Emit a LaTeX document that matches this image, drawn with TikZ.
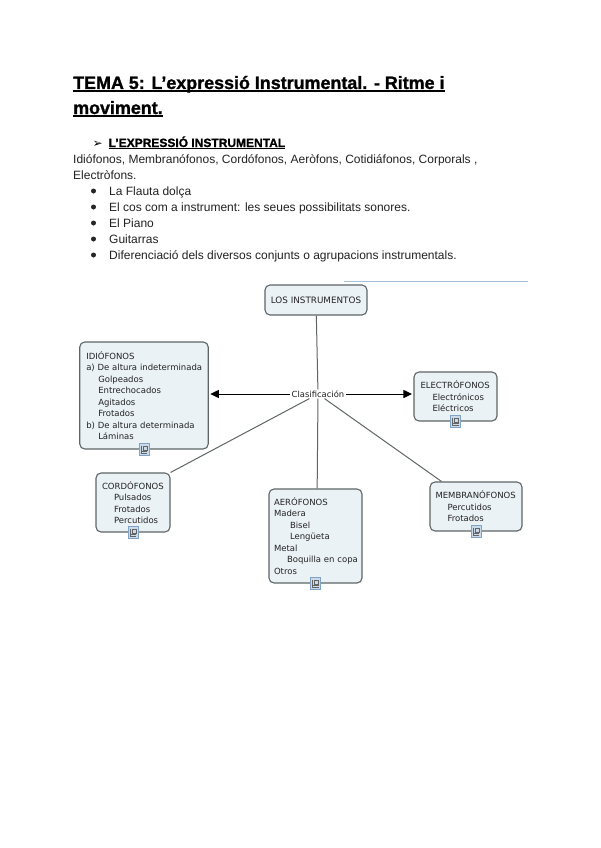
\documentclass[tikz,border=0pt]{standalone}
\usepackage{fontspec}
\setmainfont{Liberation Sans}[BoldFeatures={FakeBold=1.2}]
\newfontfamily\symfont{DejaVu Sans}
\newfontfamily\mapfont{DejaVu Sans}
\usetikzlibrary{arrows.meta}
\definecolor{boxfill}{HTML}{EBF2F6}
\definecolor{boxline}{HTML}{5F6566}
\definecolor{inktext}{HTML}{222222}
\definecolor{iconblue}{HTML}{7FA3C7}
\newcommand\ulin[2]{\setbox0\hbox{#2}\rlap{\rule[-#1]{\wd0}{1.1pt}}\box0 }
\tikzset{
  titletext/.style={anchor=base west,inner sep=0pt,font=\bfseries\fontsize{17.9}{22}\selectfont,text=black},
  bodytext/.style={anchor=base west,inner sep=0pt,font=\fontsize{12}{16}\selectfont,text=inktext},
  headtext/.style={anchor=base west,inner sep=0pt,font=\bfseries\fontsize{12}{16}\selectfont,text=black},
  dotmark/.style={circle,fill=black!85,inner sep=0pt,minimum size=5pt},
  mapbox/.style={draw=boxline,fill=boxfill,line width=1.1pt,rounded corners=5pt,inner xsep=0pt,inner ysep=0pt,align=left,
     font=\mapfont\fontsize{8.5}{11.5}\selectfont,text=inktext},
  linklabel/.style={fill=white,inner xsep=2pt,inner ysep=1pt,font=\mapfont\fontsize{8.4}{10}\selectfont,text=inktext},
  plainlink/.style={draw=boxline,line width=1pt},
  arrowlink/.style={draw=black,line width=1pt,shorten >=1.5pt,-{Triangle[length=8.5pt,width=8pt]}},
  docicon/.pic={
    \draw[iconblue,fill=boxfill!70!iconblue,line width=1pt] (-5,-6) rectangle (5,6);
    \draw[inktext!70!white,line width=0.6pt] (-3,-4) -- (-3,4) -- (3,4) (-1,-3.5) -- (3,-3.5) -- (3,1) -- (-1,1) -- cycle (-3,2.2) -- (3,2.2);
  }
}
\begin{document}
\begin{tikzpicture}[x=1pt,y=-1pt]
\useasboundingbox[fill=white] (0,0) rectangle (600,848);
% heading text
\node[titletext] (t1) at (73,89) {\ulin{2.6pt}{TEMA 5: L’expressió Instrumental. - Ritme i}};
\node[titletext] (t2) at (73,114) {\ulin{2.6pt}{moviment.}};
\node[anchor=base west,inner sep=0pt,font=\symfont\fontsize{12}{14}\selectfont] (arw) at (92.5,147.5) {➢};
\node[headtext] (h1) at (108.5,147) {\ulin{2pt}{L'EXPRESSIÓ INSTRUMENTAL}};
\node[bodytext] (b1) at (73,163) {Idiófonos, Membranófonos, Cordófonos, Aeròfons, Cotidiáfonos, Corporals ,};
\node[bodytext] (b2) at (73,179) {Electròfons.};
\foreach \nm/\yy/\tx in {l1/195/La Flauta dolça,l2/211/El cos com a instrument: les seues possibilitats sonores.,l3/227/El Piano,l4/243/Guitarras,l5/259/Diferenciació dels diversos conjunts o agrupacions instrumentals.}{
  \node[dotmark] (d\nm) at (93.5,\yy-4) {};
  \node[bodytext] (\nm) at (109,\yy) {\tx};
}
% rule above the map
\draw[color=iconblue!70!white,line width=0.7pt] (344,281.5) -- (528,281.5);
% boxes
\node[mapbox,minimum width=102pt,minimum height=30pt,align=center,font=\mapfont\fontsize{8.8}{11.5}\selectfont] (los) at (316,300) {LOS INSTRUMENTOS};
\node[mapbox,minimum width=128.5pt,minimum height=107pt,text width=115.5pt] (idio) at (144,395.5) {IDIÓFONOS\\\mbox{a) De altura indeterminada}\\\hspace*{12pt}Golpeados\\\hspace*{12pt}Entrechocados\\\hspace*{12pt}Agitados\\\hspace*{12pt}Frotados\\\mbox{b) De altura determinada}\\\hspace*{12pt}Láminas};
\node[mapbox,minimum width=83pt,minimum height=49pt,text width=70pt] (elec) at (455.5,396.5) {ELECTRÓFONOS\\\hspace*{12pt}Electrónicos\\\hspace*{12pt}Eléctricos};
\node[mapbox,minimum width=74pt,minimum height=59pt,text width=62pt] (cord) at (133,502.5) {CORDÓFONOS\\\hspace*{12pt}Pulsados\\\hspace*{12pt}Frotados\\\hspace*{12pt}Percutidos};
\node[mapbox,minimum width=93pt,minimum height=94pt,text width=83pt] (aero) at (315.5,536) {AERÓFONOS\\Madera\\\hspace*{16pt}Bisel\\\hspace*{16pt}Lengüeta\\Metal\\\hspace*{13pt}\mbox{Boquilla en copa}\\Otros};
\node[mapbox,minimum width=92pt,minimum height=49pt,text width=81pt] (memb) at (476,506.5) {MEMBRANÓFONOS\\\hspace*{12pt}Percutidos\\\hspace*{12pt}Frotados};
\node[linklabel] (clas) at (318,394) {Clasificación};
% connectors
\draw[plainlink] (los) -- (clas);
\draw[plainlink] (clas) -- (aero.88);
\draw[plainlink] (clas) -- (cord.north east);
\draw[plainlink] (clas) -- (memb.144);
\draw[arrowlink] (clas.west) -- (clas.west -| idio.east);
\draw[arrowlink] (clas.east) -- (clas.east -| elec.west);
% note icons
\pic at (idio.south) {docicon};
\pic at (elec.south) {docicon};
\pic at (cord.south) {docicon};
\pic at (aero.south) {docicon};
\pic at (memb.south) {docicon};
\end{tikzpicture}
\end{document}
